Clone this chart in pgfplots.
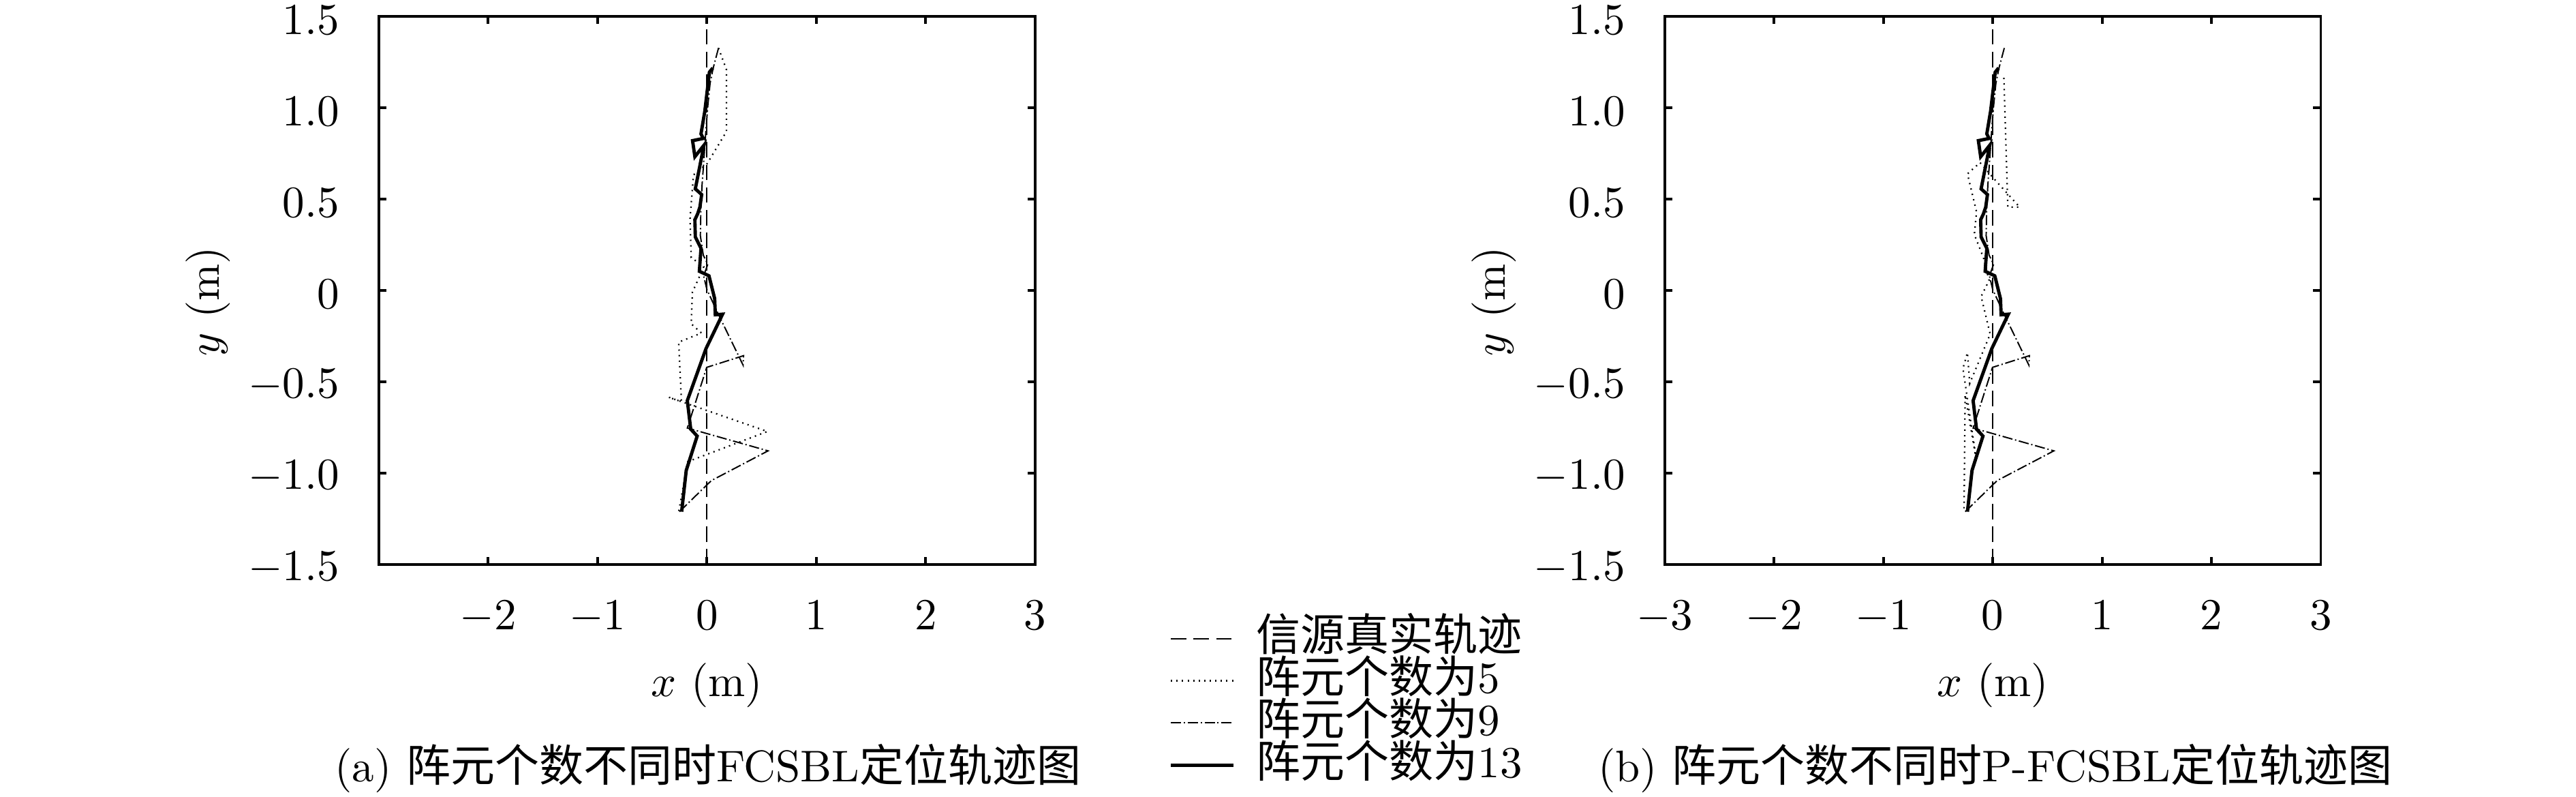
\documentclass[border=0pt]{standalone}
\usepackage{fontspec}
\usepackage{pgfplots}
\usepackage{pgfplotstable}
\pgfplotsset{compat=1.18}
\newfontfamily\cjk{Noto Sans CJK SC}

% true source track
\pgfplotstableread{
x y
0 -1.5
0 1.5
}\truetrack

% 13 elements (same in both panels)
\pgfplotstableread{
x y
0.054 1.218
0.023 1.195
-0.019 0.982
-0.054 0.857
-0.033 0.832
-0.131 0.820
-0.110 0.732
-0.027 0.795
-0.106 0.556
-0.048 0.525
-0.064 0.456
-0.085 0.419
-0.110 0.387
-0.106 0.293
-0.054 0.231
-0.069 0.105
0.019 0.080
0.040 0.030
0.071 -0.045
0.077 -0.133
0.143 -0.130
-0.008 -0.318
-0.179 -0.603
-0.148 -0.759
-0.089 -0.797
-0.189 -0.985
-0.231 -1.211
}\thirteen

% 9 elements (same in both panels)
\pgfplotstableread{
x y
0.106 1.327
0.056 1.214
0.029 1.133
0.008 1.008
-0.010 0.870
-0.033 0.669
-0.044 0.581
-0.055 0.450
-0.060 0.300
-0.033 0.193
0.008 0.143
-0.030 0.080
0.000 0.005
0.102 -0.127
0.331 -0.409
0.335 -0.357
-0.002 -0.421
-0.179 -0.753
0.559 -0.878
0.040 -1.041
-0.262 -1.217
}\nine

% 5 elements, FCSBL
\pgfplotstableread{
x y
0.106 1.327
0.179 1.208
0.179 0.870
0.002 0.694
-0.123 0.632
-0.154 0.393
-0.143 0.180
-0.029 0.130
-0.102 0.030
-0.133 -0.008
-0.143 -0.183
-0.050 -0.233
-0.258 -0.283
-0.233 -0.609
-0.351 -0.584
0.553 -0.772
-0.175 -0.937
-0.258 -1.211
}\fiveA

% 5 elements, P-FCSBL
\pgfplotstableread{
x y
0.102 1.164
0.139 0.456
0.247 0.456
0.029 0.600
-0.116 0.700
-0.231 0.638
-0.148 0.431
-0.168 0.306
-0.085 0.180
-0.033 0.055
-0.106 -0.033
-0.023 -0.239
-0.210 -0.509
-0.231 -0.340
-0.272 -0.427
-0.148 -0.935
-0.252 -0.571
-0.262 -1.204
}\fiveB

\pgfplotsset{
  trackaxis/.style={
    anchor=south west, scale only axis,
    width=148.1pt, height=123.65pt,
    xmin=-3, xmax=3, ymin=-1.5, ymax=1.5,
    ytick={-1.5,-1,...,1.5},
    yticklabels={$-1.5$,$-1.0$,$-0.5$,$0$,$0.5$,$1.0$,$1.5$},
    axis line style={line width=0.6pt},
    tick style={line width=0.6pt, black},
    major tick length=1.7pt,
    xticklabel style={yshift=-4.7pt},
    yticklabel style={xshift=-5.4pt, yshift=-0.8pt},
    xlabel={$x$ (m)}, ylabel={$y$ (m)},
    xlabel style={at={(axis description cs:0.5,-0.22)}, anchor=center},
    ylabel style={at={(axis description cs:-0.26,0.48)}, anchor=center},
  },
  truestyle/.style={black, line width=0.3pt, dash pattern=on 3.5pt off 1.6pt},
  fivestyle/.style={black, line width=0.35pt, dash pattern=on 0.3pt off 0.95pt},
  ninestyle/.style={black, line width=0.3pt, dash pattern=on 2.3pt off 0.6pt on 0.3pt off 0.6pt},
  thirteenstyle/.style={black, line width=0.75pt},
}

\begin{document}
\begin{tikzpicture}
\path[use as bounding box] (0,0) rectangle (581.4pt,179.8pt);

\begin{axis}[trackaxis, at={(85.5pt,52.45pt)},
  xtick={-2,-1,0,1,2,3},
  legend style={at={(1.2046,-0.097)}, anchor=north west, draw=none, fill=none,
    inner sep=0pt, outer sep=0pt, row sep=0pt,
    nodes={inner sep=0pt, text height=7.5pt, text depth=2pt},
    cells={anchor=west}},
  legend cell align=left,
  legend image code/.code={\draw[#1] (0pt,0pt) -- (14.1pt,0pt); \path (18.9pt,0pt);},
]
\addplot[truestyle] table {\truetrack};
\addlegendentry{{\cjk 信源真实轨迹}}
\addplot[fivestyle] table {\fiveA};
\addlegendentry{{\cjk 阵元个数为}5}
\addplot[ninestyle] table {\nine};
\addlegendentry{{\cjk 阵元个数为}9}
\addplot[thirteenstyle] table {\thirteen};
\addlegendentry{{\cjk 阵元个数为}13}
\end{axis}

\begin{axis}[trackaxis, at={(375.7pt,52.45pt)},
  xtick={-3,-2,-1,0,1,2,3},
]
\addplot[truestyle] table {\truetrack};
\addplot[fivestyle] table {\fiveB};
\addplot[ninestyle] table {\nine};
\addplot[thirteenstyle] table {\thirteen};
\end{axis}

\node[inner sep=0pt, anchor=center] at (159.8pt,6.5pt)
  {(a) {\cjk 阵元个数不同时}FCSBL{\cjk 定位轨迹图}};
\node[inner sep=0pt, anchor=center] at (450.3pt,6.5pt)
  {(b) {\cjk 阵元个数不同时}P-FCSBL{\cjk 定位轨迹图}};
\end{tikzpicture}
\end{document}
